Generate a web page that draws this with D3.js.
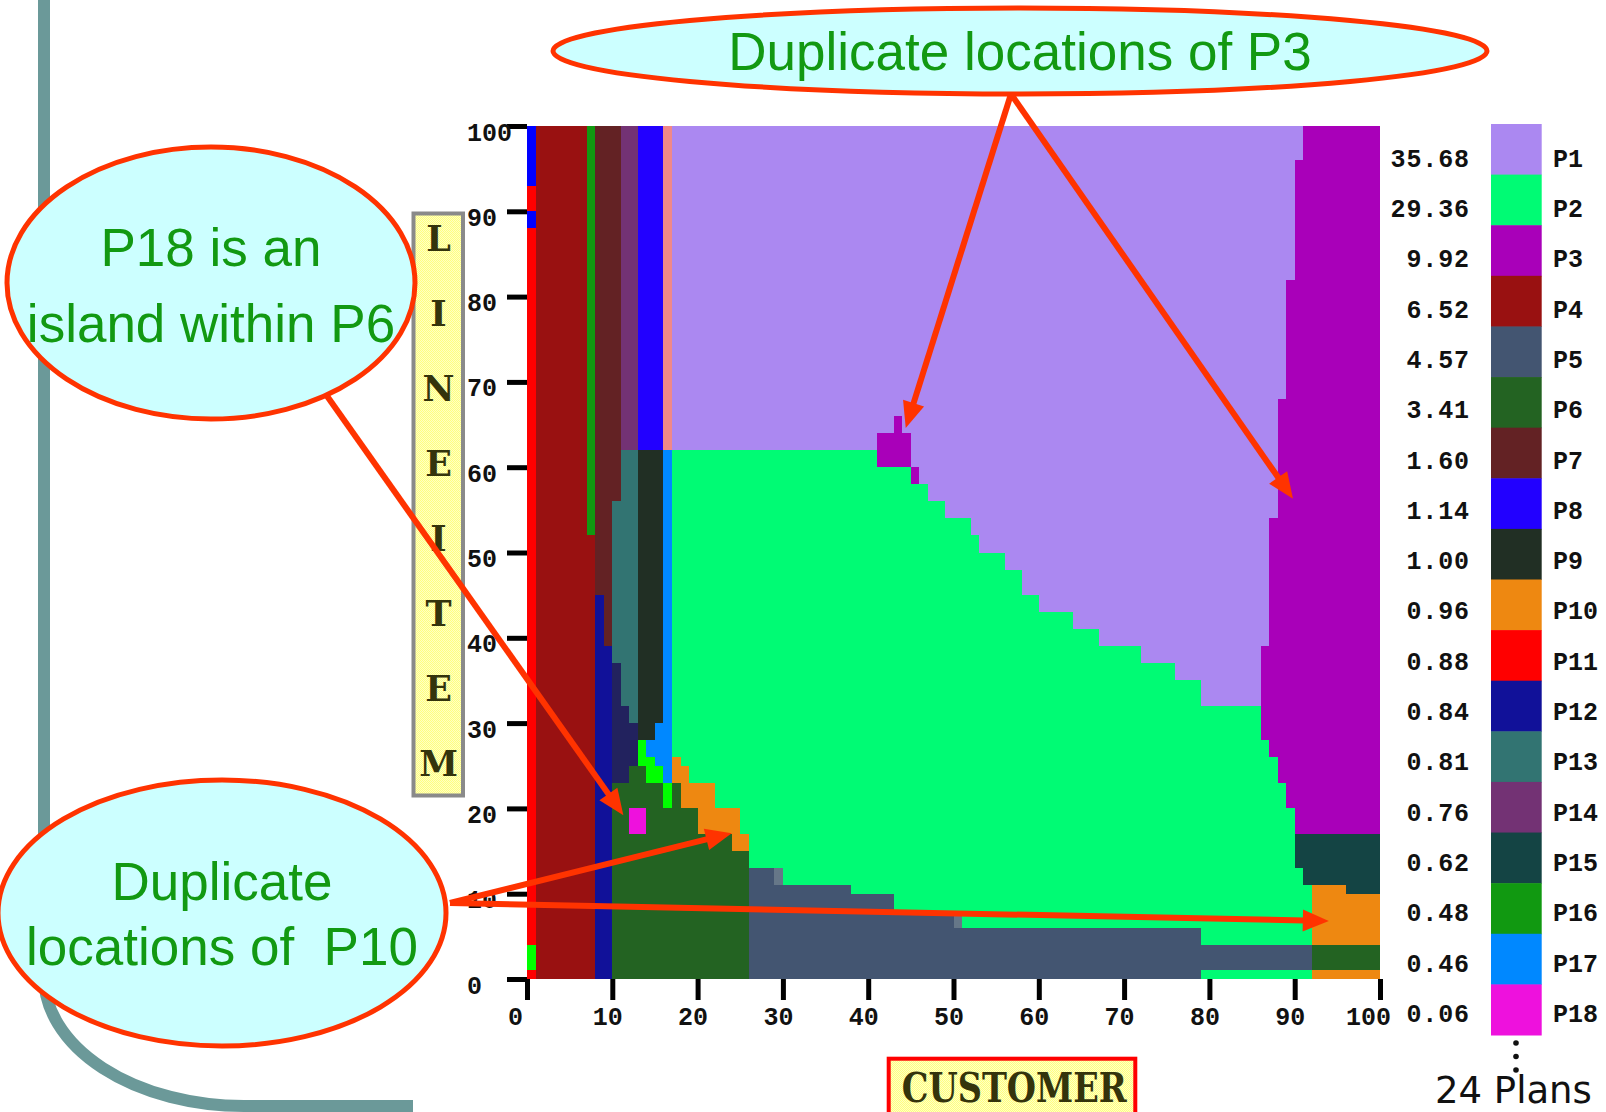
<!DOCTYPE html>
<html>
<head>
<meta charset="utf-8">
<script src="https://cdn.jsdelivr.net/npm/d3@7"></script>
<style>
  html, body { margin: 0; padding: 0; background: #fff; }
  svg { display: block; }
</style>
</head>
<body>
<svg id="chart" width="1606" height="1112"></svg>
<script>
// ---- Plan diagram data -------------------------------------------------
const planNames  = ["P1","P2","P3","P4","P5","P6","P7","P8","P9","P10","P11","P12","P13","P14","P15","P16","P17","P18"];
const planShares = [35.68, 29.36, 9.92, 6.52, 4.57, 3.41, 1.60, 1.14, 1.00, 0.96, 0.88, 0.84, 0.81, 0.76, 0.62, 0.48, 0.46, 0.06];
const planColors = {
  P1: "#ab88f1", P2: "#00fb74", P3: "#a900b9", P4: "#991111", P5: "#435571", P6: "#236322",
  P7: "#632224", P8: "#2200ff", P9: "#212f24", P10: "#ee8811", P11: "#ff0000", P12: "#111199",
  P13: "#327472", P14: "#733274", P15: "#144444", P16: "#119911", P17: "#0088ff", P18: "#ee11dd",
  // minor plans (not listed in the legend)
  P19: "#0000ff", P20: "#00ff00", P21: "#f08888", P22: "#22225e", P23: "#667788"
};
const totalPlans = 24;

const xTicks = [0, 10, 20, 30, 40, 50, 60, 70, 80, 90, 100];
const yTicks = [0, 10, 20, 30, 40, 50, 60, 70, 80, 90, 100];

// Optimal-plan regions: [plan, customer from, customer to, lineitem from, lineitem to] (selectivity %)
const regions = [
  ["P11",0,1,0,1],["P20",0,1,1,4],["P11",0,1,4,88],["P19",0,1,88,90],["P11",0,1,90,93],["P19",0,1,93,100],
  ["P4",1,7,0,100],["P4",7,8,0,52],["P16",7,8,52,100],
  ["P12",8,9,0,45],["P7",8,9,45,100],["P12",9,10,0,39],["P7",9,10,39,100],
  ["P6",10,12,0,23],["P22",10,11,23,37],["P13",10,11,37,56],["P7",10,11,56,100],
  ["P22",11,12,23,32],["P13",11,12,32,62],["P14",11,13,62,100],
  ["P6",12,14,0,17],["P18",12,14,17,20],["P6",12,14,20,25],["P22",12,13,25,30],["P13",12,13,30,62],
  ["P20",13,14,25,28],["P9",13,15,28,62],["P8",13,16,62,100],
  ["P6",14,16,0,23],["P20",14,15,23,26],["P17",14,15,26,28],
  ["P20",15,16,23,25],["P17",15,16,25,30],["P9",15,16,30,62],
  ["P6",16,17,0,20],["P20",16,17,20,23],["P17",16,17,23,62],["P21",16,17,62,100],
  ["P6",17,18,0,23],["P10",17,18,23,26],["P2",17,18,26,62],
  ["P6",18,20,0,20],["P10",18,19,20,25],["P2",18,19,25,62],["P10",19,20,20,23],
  ["P6",20,24,0,17],["P10",20,22,17,23],["P2",19,22,23,62],["P10",22,24,17,20],["P2",22,25,20,62],
  ["P6",24,26,0,15],["P10",24,25,15,20],["P10",25,26,15,17],["P2",25,26,17,62],
  ["P5",26,29,0,13],["P2",26,30,13,62],["P5",29,38,0,11],["P23",29,30,11,13],["P2",30,38,11,62],
  ["P5",38,43,0,10],["P2",38,41,10,62],["P2",41,43,10,60],
  ["P5",43,50,0,8],["P2",43,45,8,60],["P2",45,47,8,58],["P2",47,49,8,56],["P2",49,50,8,54],
  ["P5",50,79,0,6],["P23",50,51,6,8],["P2",50,52,8,54],["P2",51,52,6,8],["P2",52,53,6,52],
  ["P2",53,56,6,50],["P2",56,58,6,48],["P2",58,60,6,45],["P2",60,64,6,43],["P2",64,67,6,41],
  ["P2",67,72,6,39],["P2",72,76,6,37],["P2",76,79,6,35],
  ["P2",79,92,0,1],["P5",79,92,1,4],["P2",79,86,4,32],["P2",86,87,4,28],["P2",87,88,4,26],
  ["P2",88,89,4,23],["P2",89,90,4,20],["P2",90,91,4,13],["P2",91,92,4,11],
  ["P15",90,91,13,17],["P15",91,96,11,17],["P15",96,100,10,17],
  ["P10",92,100,0,1],["P6",92,100,1,4],["P10",92,96,4,11],["P10",96,100,4,10],
  ["P3",41,45,60,64],["P3",43,44,64,66],["P3",45,46,58,60],
  ["P3",86,87,28,39],["P3",87,88,26,54],["P3",88,89,23,68],["P3",89,90,20,82],["P3",90,91,17,96],["P3",91,100,17,100],
  ["P1",17,41,62,100],["P1",41,43,64,100],["P1",43,44,66,100],["P1",44,45,64,100],["P1",45,46,60,100],
  ["P1",46,47,58,100],["P1",47,49,56,100],["P1",49,52,54,100],["P1",52,53,52,100],["P1",53,56,50,100],
  ["P1",56,58,48,100],["P1",58,60,45,100],["P1",60,64,43,100],["P1",64,67,41,100],["P1",67,72,39,100],
  ["P1",72,76,37,100],["P1",76,79,35,100],["P1",79,86,32,100],["P1",86,87,39,100],["P1",87,88,54,100],
  ["P1",88,89,68,100],["P1",89,90,82,100],["P1",90,91,96,100]
];

// Call-out bubbles and their pointers (targets in selectivity coordinates)
const callouts = [
  { lines: ["Duplicate locations of P3"], cx: 1020, cy: 51, rx: 467, ry: 43, baselines: [70] },
  { lines: ["P18 is an", "island within P6"], cx: 211, cy: 283, rx: 204, ry: 136, baselines: [265.5, 341.5] },
  { lines: ["Duplicate", "locations of  P10"], cx: 222, cy: 913, rx: 224, ry: 133, baselines: [899.5, 964.5] }
];
const pointers = [
  { from: [1011, 94], to: [44.4, 64.6] },
  { from: [1011, 94], to: [89.8, 56.3] },
  { from: [327, 396], to: [11.3, 19.2] },
  { from: [450, 903], to: [24.0, 17.1] },
  { from: [450, 903], to: [94.0, 6.8] }
];

// ---- Drawing ------------------------------------------------------------
const svg = d3.select("#chart");
const monoFont = "'Liberation Mono', 'DejaVu Sans Mono', monospace";
const serifFont = "'DejaVu Serif', 'Liberation Serif', serif";
const sansFont = "'Liberation Sans', Arial, sans-serif";

const x = d3.scaleLinear().domain([0, 100]).range([527, 1380]);
const y = d3.scaleLinear().domain([0, 100]).range([979, 126]);

// yellow label texture
const defs = svg.append("defs");
const pat = defs.append("pattern").attr("id", "labelFill")
  .attr("width", 2).attr("height", 2).attr("patternUnits", "userSpaceOnUse");
pat.append("rect").attr("width", 2).attr("height", 2).attr("fill", "#ffffc4");
pat.append("rect").attr("width", 1).attr("height", 1).attr("fill", "#ffff80");
pat.append("rect").attr("x", 1).attr("y", 1).attr("width", 1).attr("height", 1).attr("fill", "#ffff80");

// slide frame decoration
svg.append("path")
  .attr("d", "M44,0 V976 A200,130 0 0 0 244,1106 H413")
  .attr("fill", "none").attr("stroke", "#6b9999").attr("stroke-width", 12);

// plan regions
svg.append("g").attr("shape-rendering", "crispEdges")
  .selectAll("rect").data(regions).join("rect")
  .attr("x", d => x(d[1]))
  .attr("y", d => y(d[4]))
  .attr("width", d => x(d[2]) - x(d[1]))
  .attr("height", d => y(d[3]) - y(d[4]))
  .attr("fill", d => planColors[d[0]]);

// y axis (LINEITEM)
const gy = svg.append("g").attr("transform", `translate(${x(0)},0)`)
  .call(d3.axisLeft(y).tickValues(yTicks).tickSize(20).tickFormat(d3.format("d")));
gy.select(".domain").remove();
gy.attr("font-family", null).attr("font-size", null);
gy.selectAll(".tick line").attr("stroke", "#000").attr("stroke-width", 5);
gy.selectAll(".tick text")
  .attr("x", 467 - x(0)).attr("y", 14).attr("dy", null)
  .attr("text-anchor", "start")
  .style("font-family", monoFont).style("font-weight", "bold").style("font-size", "25px")
  .attr("fill", "#111");

// x axis (CUSTOMER)
const gx = svg.append("g").attr("transform", `translate(0,${y(0)})`)
  .call(d3.axisBottom(x).tickValues(xTicks).tickSize(21).tickFormat(d3.format("d")));
gx.select(".domain").remove();
gx.attr("font-family", null).attr("font-size", null);
gx.selectAll(".tick line").attr("stroke", "#000").attr("stroke-width", 5);
gx.selectAll(".tick text")
  .attr("y", 46).attr("dy", null)
  .attr("dx", d => (d === 0 || d === 100) ? -12 : -5)
  .attr("text-anchor", "middle")
  .style("font-family", monoFont).style("font-weight", "bold").style("font-size", "25px")
  .attr("fill", "#111");

// axis titles
svg.append("rect").attr("x", 413.5).attr("y", 213.5).attr("width", 49.5).attr("height", 582)
  .attr("fill", "url(#labelFill)").attr("stroke", "#8a8a8a").attr("stroke-width", 4);
svg.append("g").selectAll("text").data("LINEITEM".split("")).join("text")
  .attr("x", 438.5)
  .attr("y", (d, i) => 250.5 + i * 75)
  .attr("text-anchor", "middle")
  .style("font-family", serifFont).style("font-weight", "bold").style("font-size", "35px")
  .attr("fill", "#34340c")
  .text(d => d);

svg.append("rect").attr("x", 888.7).attr("y", 1058.7).attr("width", 246.6).attr("height", 70)
  .attr("fill", "url(#labelFill)").attr("stroke", "#ff0000").attr("stroke-width", 4);
svg.append("text").attr("x", 901.7).attr("y", 1101.7)
  .attr("textLength", 225).attr("lengthAdjust", "spacingAndGlyphs")
  .style("font-family", serifFont).style("font-weight", "bold").style("font-size", "41px")
  .attr("fill", "#34340c").text("CUSTOMER");

// legend
const swatch = d3.scaleBand().domain(planNames).range([124, 1035]);
const labelY = d3.scalePoint().domain(planNames).range([166.7, 1021.8]);
const lg = svg.append("g");
lg.selectAll("rect").data(planNames).join("rect")
  .attr("x", 1491).attr("width", 50.7)
  .attr("y", d => swatch(d)).attr("height", swatch.bandwidth() + 0.5)
  .attr("fill", d => planColors[d]);
lg.selectAll("text.share").data(planNames).join("text").attr("class", "share")
  .attr("x", 1470).attr("y", d => labelY(d)).attr("text-anchor", "end")
  .style("font-family", monoFont).style("font-weight", "bold").style("font-size", "25px")
  .style("letter-spacing", "0.9px")
  .attr("fill", "#111")
  .text((d, i) => planShares[i].toFixed(2));
lg.selectAll("text.name").data(planNames).join("text").attr("class", "name")
  .attr("x", 1553).attr("y", d => labelY(d))
  .style("font-family", monoFont).style("font-weight", "bold").style("font-size", "25px")
  .attr("fill", "#111")
  .text(d => d);
lg.selectAll("circle").data([0, 1, 2]).join("circle")
  .attr("cx", 1516).attr("cy", d => 1043 + d * 13.5).attr("r", 2.8).attr("fill", "#111");
lg.append("text").attr("x", 1435).attr("y", 1103)
  .style("font-family", "'DejaVu Sans', sans-serif").style("font-size", "37px")
  .attr("fill", "#111").text(`${totalPlans} Plans`);

// call-outs
const cg = svg.append("g");
callouts.forEach(c => {
  cg.append("ellipse").attr("cx", c.cx).attr("cy", c.cy).attr("rx", c.rx).attr("ry", c.ry)
    .attr("fill", "#ccffff").attr("stroke", "#ff3300").attr("stroke-width", 5);
  c.lines.forEach((t, i) => {
    cg.append("text").attr("x", c.cx).attr("y", c.baselines[i])
      .attr("text-anchor", "middle").style("white-space", "pre")
      .style("font-family", sansFont).style("font-size", "53px")
      .attr("fill", "#129912").text(t);
  });
});

const headLen = 26, headHalf = 11;
pointers.forEach(p => {
  const [x1, y1] = p.from;
  const x2 = x(p.to[0]), y2 = y(p.to[1]);
  const dx = x2 - x1, dy = y2 - y1, len = Math.hypot(dx, dy);
  const ux = dx / len, uy = dy / len;
  const bx = x2 - ux * headLen, by = y2 - uy * headLen;
  cg.append("line").attr("x1", x1).attr("y1", y1).attr("x2", bx + ux * 2).attr("y2", by + uy * 2)
    .attr("stroke", "#ff3300").attr("stroke-width", 6);
  cg.append("polygon")
    .attr("points", [[x2, y2], [bx - uy * headHalf, by + ux * headHalf], [bx + uy * headHalf, by - ux * headHalf]].map(q => q.join(",")).join(" "))
    .attr("fill", "#ff3300");
});
</script>
</body>
</html>
